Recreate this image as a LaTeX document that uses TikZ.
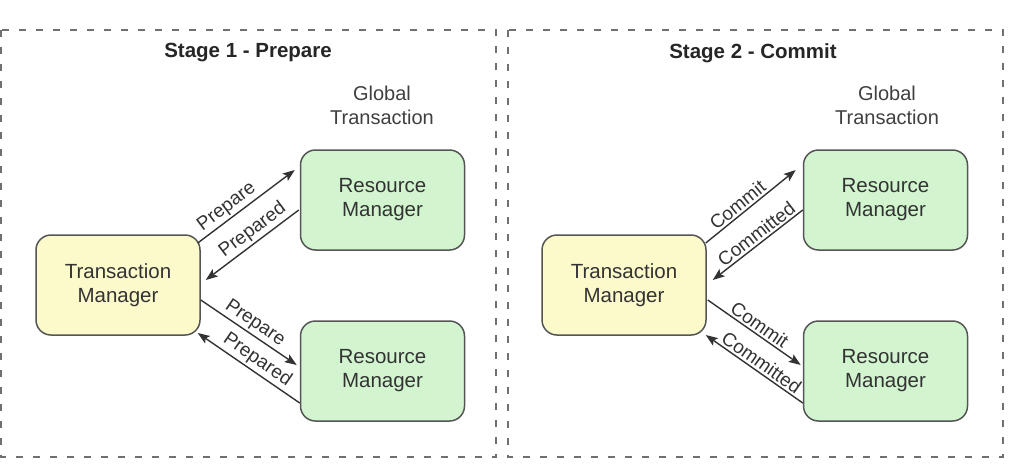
\documentclass[tikz,border=0pt]{standalone}
\usepackage{fontspec}
\setmainfont{Liberation Sans}
\usetikzlibrary{arrows.meta,calc}
\definecolor{tmfill}{HTML}{FCFACB}
\definecolor{rmfill}{HTML}{D2F5D0}
\definecolor{boxline}{HTML}{555555}
\definecolor{dashc}{HTML}{707070}
\definecolor{txt}{HTML}{333333}
\tikzset{
  panel/.style={draw=dashc, line width=2.2pt, dash pattern=on 7pt off 10pt},
  mgr/.style={draw=boxline, line width=1.5pt, rounded corners=15pt, minimum width=164pt, minimum height=100pt, align=center, text=txt, font=\fontsize{20.5}{24}\selectfont, inner sep=0pt},
  tmbox/.style={mgr, fill=tmfill},
  rmbox/.style={mgr, fill=rmfill},
  title/.style={font=\bfseries\fontsize{20.5}{24}\selectfont, text=black!85},
  glob/.style={font=\fontsize{20}{24}\selectfont, text=black!75, align=center},
  msg/.style={draw=txt, line width=1.4pt, -{Stealth[length=12pt,width=9pt,inset=2.5pt]}},
  lbl/.style={font=\fontsize{19}{22}\selectfont, text=txt, sloped, above, inner sep=2pt}
}
\begin{document}
\begin{tikzpicture}[x=1pt,y=-1pt]
\useasboundingbox (0,0) rectangle (1028,474);
\fill[white] (0,0) rectangle (1028,474);
% panels
\draw[panel] (1,30) rectangle (496,457);
\draw[panel] (508,30) rectangle (1003,457);
% titles
\node[title] (t1) at (248,53) {Stage 1 - Prepare};
\node[title] (t2) at (753,53) {Stage 2 - Commit};
\node[glob] (g1) at (382,105) {Global\\Transaction};
\node[glob] (g2) at (887,105) {Global\\Transaction};
% left panel nodes
\node[tmbox] (tmA) at (118,285) {Transaction\\Manager};
\node[rmbox] (rmA1) at (382.5,200) {Resource\\Manager};
\node[rmbox] (rmA2) at (382.5,371) {Resource\\Manager};
% right panel nodes
\node[tmbox] (tmB) at (624,285) {Transaction\\Manager};
\node[rmbox] (rmB1) at (885.5,200) {Resource\\Manager};
\node[rmbox] (rmB2) at (885.5,371) {Resource\\Manager};
% left arrows
\draw[msg] ($(tmA.east)+(-3,-42)$) -- node[lbl,pos=0.37] {Prepare} ($(rmA1.west)+(-5,-30)$);
\draw[msg] ($(rmA1.west)+(-1,10)$) -- node[lbl,pos=0.42] {Prepared} ($(tmA.east)+(5,-5)$);
\draw[msg] ($(tmA.east)+(0,15)$) -- node[lbl,pos=0.5] {Prepare} ($(rmA2.west)+(-3,-6)$);
\draw[msg] ($(rmA2.west)+(0,32)$) -- node[lbl,pos=0.48] {Prepared} ($(tmA.east)+(-3,48)$);
% right arrows
\draw[msg] ($(tmB.east)+(-1,-42)$) -- node[lbl,pos=0.42] {Commit} ($(rmB1.west)+(-7,-30)$);
\draw[msg] ($(rmB1.west)+(0,10)$) -- node[lbl,pos=0.45] {Committed} ($(tmB.east)+(6,-5)$);
\draw[msg] ($(tmB.east)+(1,15)$) -- node[lbl,pos=0.5] {Commit} ($(rmB2.west)+(-2,-6)$);
\draw[msg] ($(rmB2.west)+(0,32)$) -- node[lbl,pos=0.48] {Committed} ($(tmB.east)+(-1,50)$);
\end{tikzpicture}
\end{document}
